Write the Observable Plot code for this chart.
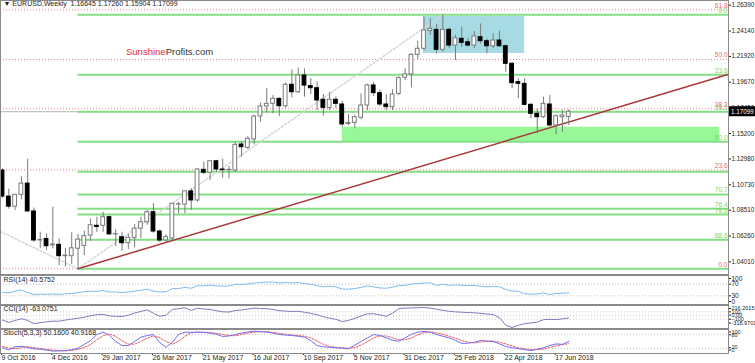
<!DOCTYPE html>
<html><head><meta charset="utf-8">
<script src="https://cdn.jsdelivr.net/npm/d3@7"></script>
<script src="https://cdn.jsdelivr.net/npm/@observablehq/plot@0.6"></script>
<style>
body{margin:0;background:#fff;}
#wrap{position:relative;width:755px;height:363px;overflow:hidden;background:#fff;}
.p{position:absolute;left:0;}
.p svg{overflow:visible;}
#wm{position:absolute;left:126px;top:46px;font:9.5px "Liberation Sans",Arial,sans-serif;color:#333;white-space:nowrap;}
#wm span{color:#e8284f;}
</style></head><body>
<div id="wrap">
<div id="main" class="p" style="top:0px"></div>
<div id="rsi" class="p" style="top:274px"></div>
<div id="cci" class="p" style="top:304px"></div>
<div id="sto" class="p" style="top:328px"></div>
<div id="wm"><span>Sunshine</span>Profits.com</div>
</div>
<script>
// ---- data ----
const symbol = "EURUSD,Weekly";
const dateLabels = ["9 Oct 2016","4 Dec 2016","29 Jan 2017","26 Mar 2017","21 May 2017","16 Jul 2017","10 Sep 2017","5 Nov 2017","31 Dec 2017","25 Feb 2018","22 Apr 2018","17 Jun 2018"];
const dateWeeks = [0,8,16,24,32,40,48,56,64,72,80,88];
const open = [1.1197,1.0970,1.0882,1.0985,1.1083,1.0840,1.0587,1.0600,1.0545,1.0549,
1.0450,1.0450,1.0515,1.0540,1.0630,1.0715,1.0715,1.0790,1.0640,1.0615,
1.0563,1.0610,1.0690,1.0746,1.0834,1.0665,1.0587,1.0605,1.0900,1.0900,
1.1015,1.0936,1.1203,1.1178,1.1278,1.1206,1.1200,1.1197,1.1424,1.1395,
1.1468,1.1668,1.1755,1.1779,1.1822,1.1758,1.1945,1.1880,1.2026,1.1933,
1.1915,1.1814,1.1744,1.1814,1.1773,1.1603,1.1613,1.1657,1.1764,1.1939,
1.1872,1.1773,1.1750,1.1866,1.2006,1.2035,1.2206,1.2259,1.2413,1.2424,
1.2250,1.2424,1.2287,1.2346,1.2316,1.2287,1.2360,1.2325,1.2281,1.2331,
1.2281,1.2128,1.1968,1.1953,1.1770,1.1692,1.1662,1.1773,1.1590,1.1662,
1.16645];
const high = [1.1212,1.1035,1.0990,1.1144,1.1296,1.0870,1.0659,1.0645,1.0877,1.0600,
1.0519,1.0654,1.0640,1.0668,1.0775,1.0790,1.0834,1.0800,1.0680,1.0659,
1.0640,1.0726,1.0790,1.0850,1.0907,1.0680,1.0640,1.0910,1.0921,1.1020,
1.1040,1.1212,1.1270,1.1285,1.1285,1.1296,1.1232,1.1444,1.1444,1.1494,
1.1680,1.1784,1.1910,1.1851,1.1830,1.1960,1.2075,1.2092,1.2084,1.2000,
1.1970,1.1860,1.1880,1.1840,1.1800,1.1685,1.1680,1.1866,1.1950,1.1968,
1.1900,1.1860,1.1901,1.2015,1.2084,1.2215,1.2325,1.2536,1.2520,1.2470,
1.2556,1.2440,1.2375,1.2447,1.2350,1.2410,1.2476,1.2345,1.2389,1.2412,
1.2290,1.2140,1.1997,1.1997,1.1780,1.1735,1.1837,1.1852,1.1680,1.1721,
1.17260];
const low = [1.0955,1.0860,1.0849,1.0942,1.0835,1.0572,1.0514,1.0500,1.0514,1.0369,
1.0354,1.0378,1.0340,1.0456,1.0580,1.0659,1.0659,1.0637,1.0534,1.0493,
1.0508,1.0523,1.0605,1.0720,1.0650,1.0570,1.0570,1.0580,1.0820,1.0820,
1.0851,1.0920,1.1160,1.1110,1.1180,1.1130,1.1125,1.1180,1.1313,1.1378,
1.1420,1.1619,1.1697,1.1692,1.1668,1.1740,1.1831,1.1870,1.1837,1.1860,
1.1721,1.1671,1.1720,1.1740,1.1575,1.1590,1.1561,1.1640,1.1721,1.1843,
1.1756,1.1720,1.1720,1.1850,1.1980,1.1919,1.2165,1.2240,1.2375,1.2215,
1.2229,1.2260,1.2157,1.2270,1.2270,1.2260,1.2300,1.2215,1.2260,1.2270,
1.2055,1.1910,1.1823,1.1760,1.1648,1.1518,1.1650,1.1575,1.1511,1.1531,
1.15904];
const close = [1.0970,1.0882,1.0985,1.1083,1.0840,1.0587,1.0592,1.0537,1.0552,1.0450,
1.0455,1.0519,1.0595,1.0625,1.0720,1.0705,1.0790,1.0640,1.0643,1.0563,
1.0610,1.0690,1.0746,1.0834,1.0665,1.0587,1.0616,1.0907,1.0903,1.1016,
1.0936,1.1206,1.1178,1.1278,1.1206,1.1200,1.1203,1.1421,1.1400,1.1474,
1.1668,1.1755,1.1779,1.1822,1.1758,1.1945,1.1880,1.2026,1.1938,1.1915,
1.1808,1.1744,1.1814,1.1779,1.1599,1.1613,1.1662,1.1764,1.1939,1.1872,
1.1773,1.1750,1.1860,1.2003,1.2035,1.2206,1.2259,1.2419,1.2432,1.2250,
1.2424,1.2287,1.2351,1.2311,1.2287,1.2366,1.2325,1.2281,1.2331,1.2281,
1.2128,1.1959,1.1953,1.1770,1.1692,1.1662,1.1779,1.1590,1.1671,1.1677,
1.17099];
const rsi = [42,40,46,50,41,34,36,35,36,35,
37,38,41,44,46,45.5,48,43,43,41,
43,46,49,53,46,43,44,55,55,59,
56,65,64,67,64,63.5,63.5,70,69,71,
74,76,77,78,74,76,74,76,72,70,
65,61,63,61,53,53,55,59,64,61,
57,56,60,65,66,71,72,74,75,66,
70,66,68,66,65,66,63,61,62,61,
52,46,45.5,37,36,36,40,34,38,38.5,
40.5752];
const cci = [-120,-185,-130,-85,-130,-215,-190,-165,-150,-150,
-120,-95,-70,-45,-5,25,30,-10,-20,-25,
10,70,110,155,60,-20,10,165,185,208,
140,198,175,165,130,100,95,135,150,175,
198,190,182,165,130,120,110,115,90,60,
20,-30,-70,-100,-160,-130,-75,-10,45,50,
15,-15,60,190,200,205,210,216.2015,200,170,
140,115,100,90,80,75,60,40,30,-55,
-260,-318.9701,-260,-215,-195,-175,-110,-100,-105,-90,
-63.0751];
const stochMain = [24,15,28,30,25,19,18,14,10,11,
12,16,22,38,54,79,89,75,50,33,
33,50,68,75,79,45,26,47,80,89,
88,89,88,85,80,71,73,79,85,90,
93,91,89,85,79,77,75,72,68,54,
33,28,26,24,22,19.5,35,50,65,79,
75,65,55,51,65,80,89,92,88,79,
72,65,55,42,43,47,54,52,50,40,
29,24,20,16,12.5,18,24,33,40,38,
50.16];
const stochSignal = [30,22,21,24,28,25,21,17,14,12,
11,13,17,25,38,57,74,81,71,53,
39,39,50,64,74,66,50,39,51,72,
86,89,88,87,84,79,75,74,79,85,
89,91,91,88,84,80,77,75,72,65,
52,38,29,26,24,22,25,35,50,65,
73,73,65,57,57,65,78,87,90,86,
80,72,64,54,47,44,48,51,52,47,
40,31,24,20,16,16,18,25,32,37,
40.9168];
const priceTicks = [1.26390,1.24140,1.21920,1.19670,1.17450,1.15200,1.12980,1.10730,1.08510,1.06260,1.04010];
const rsiLevels = [70,30];
const cciLevels = [100,0,-100];
const stochLevels = [80,20];
// Fibonacci tools
const redFibLow = 1.0340, redFibHigh = 1.3993;
const redFibLevels = [0,23.6,38.2,50,61.8];
const greenFibHigh = 1.2555, greenFibLow = 1.0340, greenFibStartWeek = 12, greenFibHighWeek = 70;
const greenFibLevels = [0,23.6,38.2,50,61.8,70.7,76.4,78.6,88.6,100];
const greenFibLabeled = [0,23.6,38.2,50,70.7,76.4,78.6,88.6];
// annotations
const consolidationBox = {w1:66.9, w2:83, p1:1.2218, p2:1.2540};
const supportZone = {w1:54, w2:114, p1:1.1448, p2:1.1575};
const trendLine = [{w:12, p:1.0340},{w:115.4, p:1.2036}];
const redFibDiag = [{w:-0.32, p:1.0665},{w:12, p:1.0340}];

// ---- build ----
const W = 755, MR = 27;
const xDom = [-0.32, 115.4];
const font = '"Liberation Sans Narrow","Arial Narrow","Liberation Sans",sans-serif';
const style = {fontFamily: font, fontSize: "6.5px", background: "transparent", overflow: "visible", color: "#222"};
const candles = open.map((o,i)=>({i, o, h:high[i], l:low[i], c:close[i]}));
const last = candles[candles.length-1];
const redFib = redFibLevels.map(l=>({l, p: redFibLow + l/100*(redFibHigh-redFibLow)}));
const greenFib = greenFibLevels.map(l=>({l, p: greenFibHigh - l/100*(greenFibHigh-greenFibLow)}));
const greenDiag = [{w:greenFibStartWeek, p:greenFibLow},{w:greenFibHighWeek, p:greenFibHigh}];
const f5 = d=>d.toFixed(5);
const header = `\u25BC ${symbol}  ${f5(last.o)} ${f5(last.h)} ${f5(last.l)} ${f5(last.c)}`;
const xEnd = ()=>xDom[1];
const ax = {anchor:"right", tickSize:2, tickPadding:1, label:null};

const main = Plot.plot({
  width: W, height: 275, marginLeft: 0, marginRight: MR, marginTop: 0, marginBottom: 1,
  x: {domain: xDom, axis: null},
  y: {domain: [1.02903, 1.26800], axis: null},
  style,
  marks: [
    Plot.rect([consolidationBox], {x1:"w1", x2:"w2", y1:"p1", y2:"p2", fill:"#a6dbe4"}),
    Plot.rect([supportZone], {x1:"w1", x2:"w2", y1:"p1", y2:"p2", fill:"#98f898"}),
    Plot.ruleY([last.c], {stroke:"#b4b4b4", strokeWidth:1}),
    Plot.ruleY(redFib, {y:"p", stroke:"#ef7585", strokeDasharray:"1,2", strokeWidth:1}),
    Plot.ruleY(greenFib, {y:"p", x1:()=>greenFibStartWeek, x2:xEnd, stroke:"#84de84", strokeWidth:2}),
    Plot.line(redFibDiag, {x:"w", y:"p", stroke:"#d6d6d6", strokeDasharray:"2,2"}),
    Plot.line(greenDiag, {x:"w", y:"p", stroke:"#d6d6d6", strokeDasharray:"2,2"}),
    Plot.line(trendLine, {x:"w", y:"p", stroke:"#a8373a", strokeWidth:1.5}),
    Plot.ruleX(candles, {x:"i", y1:"l", y2:"h", stroke:"#7a7a7a", strokeWidth:1}),
    Plot.rect(candles, {x1:d=>d.i-0.3, x2:d=>d.i+0.3, y1:d=>Math.min(d.o,d.c), y2:d=>Math.max(d.o,d.c),
      fill:d=>d.c>=d.o?"#ffffff":"#000000", stroke:d=>d.c>=d.o?"#7a7a7a":"#000000", strokeWidth:1}),
    Plot.text(redFib, {x:xEnd, y:"p", text:d=>d.l.toFixed(1), textAnchor:"end", dx:-1, dy:-4, fill:"#e8687a", fontSize:6.5}),
    Plot.text(greenFib.filter(d=>greenFibLabeled.includes(d.l)), {x:xEnd, y:"p", text:d=>d.l.toFixed(1), textAnchor:"end", dx:-1, dy:-4, fill:"#72d672", fontSize:6.5}),
    Plot.text([header], {frameAnchor:"top-left", dx:3, dy:1, fontSize:7, fill:"#222"}),
    Plot.axisY(priceTicks, {...ax, tickFormat:f5, fontSize:6.3}),
    Plot.rect([last.c], {x1:xEnd, x2:xEnd, y1:d=>d, y2:d=>d, insetRight:-MR, insetLeft:1, insetTop:-5, insetBottom:-5, fill:"#000"}),
    Plot.text([last.c], {x:xEnd, y:d=>d, text:f5, textAnchor:"start", dx:2.5, fill:"#fff", fontSize:6.3}),
    Plot.frame({stroke:"#8a8a8a"})
  ]
});
document.getElementById("main").append(main);

const rsiPlot = Plot.plot({
  width: W, height: 30, marginLeft: 0, marginRight: MR, marginTop: 1, marginBottom: 0,
  x: {domain: xDom, axis: null}, y: {domain: [0,100], axis: null}, style,
  marks: [
    Plot.ruleY(rsiLevels, {stroke:"#c0c0c0", strokeDasharray:"1,2"}),
    Plot.line(rsi, {x:(d,i)=>i, y:d=>d, stroke:"#7dbcf4", strokeWidth:1}),
    Plot.text([`RSI(14) ${rsi[rsi.length-1].toFixed(4)}`], {frameAnchor:"top-left", dx:3, dy:2, fill:"#222", fontSize:7}),
    Plot.axisY([70,30], ax),
    Plot.axisY([100], {...ax, dy:3}),
    Plot.axisY([0], {...ax, dy:-3}),
    Plot.frame({stroke:"#8a8a8a"})
  ]
});
document.getElementById("rsi").append(rsiPlot);

const cciPlot = Plot.plot({
  width: W, height: 25, marginLeft: 0, marginRight: MR, marginTop: 3, marginBottom: 2,
  x: {domain: xDom, axis: null}, y: {domain: [d3.min(cci), d3.max(cci)], axis: null}, style,
  marks: [
    Plot.ruleY(cciLevels, {stroke:"#c8c8c8", strokeDasharray:"1,2"}),
    Plot.line(cci, {x:(d,i)=>i, y:d=>d, stroke:"#7c7cb8", strokeWidth:1}),
    Plot.text([`CCI(14) ${cci[cci.length-1].toFixed(4)}`], {frameAnchor:"top-left", dx:3, dy:-1, fill:"#222", fontSize:7}),
    Plot.axisY([d3.max(cci)], {...ax, dy:1, tickFormat:d=>d.toFixed(4), fontSize:5.5}),
    Plot.axisY([100], {...ax, fontSize:5.5}),
    Plot.axisY([0], {...ax, dy:-0.5, tickFormat:d=>d.toFixed(2), fontSize:5.5}),
    Plot.axisY([-100], {...ax, fontSize:5.5}),
    Plot.axisY([d3.min(cci)], {...ax, dy:-4.5, tickFormat:d=>d.toFixed(4), fontSize:5.5}),
    Plot.frame({stroke:"#8a8a8a", insetTop:-2, insetBottom:-1})
  ]
});
document.getElementById("cci").append(cciPlot);

const stoPlot = Plot.plot({
  width: W, height: 35, marginLeft: 0, marginRight: MR, marginTop: 1, marginBottom: 10,
  x: {domain: xDom}, y: {domain: [0,100], axis: null}, style,
  marks: [
    Plot.ruleY(stochLevels, {stroke:"#c0c0c0", strokeDasharray:"1,2"}),
    Plot.line(stochSignal, {x:(d,i)=>i, y:d=>d, stroke:"#f05a5a", strokeDasharray:"2,1.5", strokeWidth:1}),
    Plot.line(stochMain, {x:(d,i)=>i, y:d=>d, stroke:"#6f6ff2", strokeWidth:1}),
    Plot.text([`Stoch(5,3,3) ${stochMain[stochMain.length-1].toFixed(4)} ${stochSignal[stochSignal.length-1].toFixed(4)}`], {frameAnchor:"top-left", dx:3, dy:1, fill:"#222", fontSize:7}),
    Plot.axisY([100], {...ax, dy:2.5, fontSize:5.5}),
    Plot.axisY([80], {...ax, dy:0.5, fontSize:5.5}),
    Plot.axisY([20], {...ax, dy:-1, fontSize:5.5}),
    Plot.axisY([0], {...ax, dy:-3.5, fontSize:5.5}),
    Plot.axisX(dateWeeks, {anchor:"bottom", tickSize:2, tickPadding:0, textAnchor:"start", dx:-1, fontSize:7, tickFormat:(d)=>dateLabels[dateWeeks.indexOf(d)], label:null}),
    Plot.frame({stroke:"#8a8a8a"})
  ]
});
document.getElementById("sto").append(stoPlot);
</script>
</body></html>
